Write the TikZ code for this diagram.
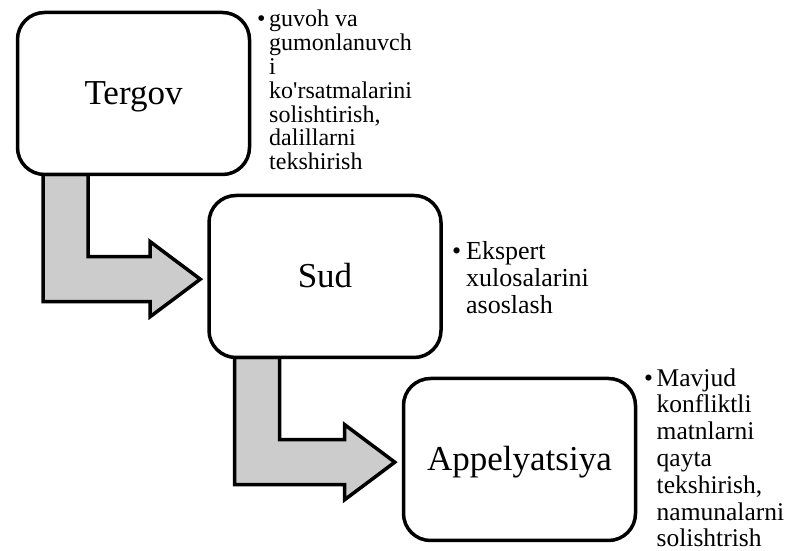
\documentclass[tikz,border=0pt]{standalone}
\usepackage{fontspec}
\setmainfont{Liberation Serif}
\usetikzlibrary{calc, backgrounds}
\definecolor{arrowgray}{HTML}{CCCCCC}
\tikzset{
  stage/.style={draw=black, line width=3.5pt, rounded corners=27pt, fill=white, minimum width=232pt, minimum height=162pt, outer sep=0pt, inner sep=0pt, font=\fontsize{35}{40}\selectfont, text height=24pt, text depth=1pt},
  note/.style={anchor=north west, inner sep=0pt, align=left},
  bent/.style={draw=black, line width=3.5pt, fill=arrowgray, line join=miter},
}
% bent block arrow from the bottom of one stage to the left side of the next
\newcommand{\bentarrow}[2]{%
  \draw[bent] let \p1=(#1.south west), \p2=(#2.west) in
    (\x1+25.5pt,\y1) -- (\x1+70.5pt,\y1) -- (\x1+70.5pt,\y2+19.8pt)
    -- (\x2-58.8pt,\y2+19.8pt) -- (\x2-58.8pt,\y2+34.8pt) -- (\x2-8.7pt,\y2-2.7pt)
    -- (\x2-58.8pt,\y2-40.2pt) -- (\x2-58.8pt,\y2-25.2pt) -- (\x1+25.5pt,\y2-25.2pt) -- cycle;}

\begin{document}
\begin{tikzpicture}[x=1pt, y=1pt]
  \useasboundingbox (0,0) rectangle (787,551);
  % stages
  \node[stage] (tergov) at (133.5,457.5) {Tergov};
  \node[stage] (sud) at (325,274.5) {Sud};
  \node[stage] (appel) at (519.5,91.5) {Appelyatsiya};
  % bullet notes
  \node[note, font=\fontsize{24}{23.8}\selectfont] (tergovnote) at (257,541) {%
    \begin{tabular}{@{}l@{}l@{}}
      \makebox[12pt][l]{\textbullet} & guvoh va\\
      & gumonlanuvch\\
      & i\\
      & ko\textquotesingle rsatmalarini\\
      & solishtirish,\\
      & dalillarni\\
      & tekshirish
    \end{tabular}};
  \node[note, font=\fontsize{26}{26.8}\selectfont] (sudnote) at (452,310.5) {%
    \begin{tabular}{@{}l@{}l@{}}
      \makebox[14pt][l]{\textbullet} & Ekspert\\
      & xulosalarini\\
      & asoslash
    \end{tabular}};
  \node[note, font=\fontsize{25.5}{26.8}\selectfont] (appelnote) at (644,183.8) {%
    \begin{tabular}{@{}l@{}l@{}}
      \makebox[12.5pt][l]{\textbullet} & Mavjud\\
      & konfliktli\\
      & matnlarni\\
      & qayta\\
      & tekshirish,\\
      & namunalarni\\
      & solishtrish
    \end{tabular}};
  % arrows behind the stages
  \begin{scope}[on background layer]
    \fill[white] (0,0) rectangle (787,551);
    \bentarrow{tergov}{sud}
    \bentarrow{sud}{appel}
  \end{scope}
\end{tikzpicture}
\end{document}
